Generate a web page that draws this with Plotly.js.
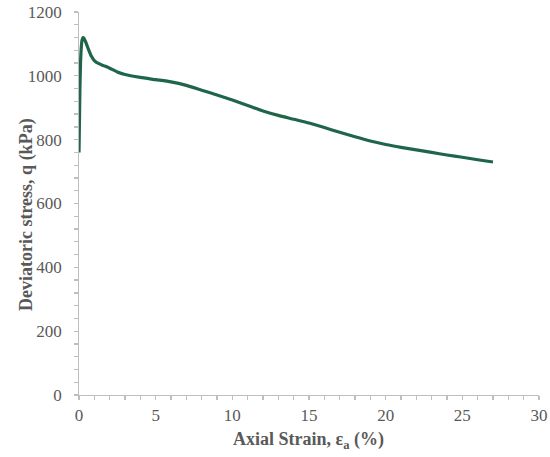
<!DOCTYPE html>
<html>
<head>
<meta charset="utf-8">
<script src="https://cdn.plot.ly/plotly-3.0.1.min.js"></script>
<style>html,body{margin:0;padding:0;background:#fff;}#chart{width:550px;height:457px;}</style>
</head>
<body>
<div id="chart"></div>
<script>
const strain = [0, 0.03, 0.06, 0.1, 0.15, 0.2, 0.26, 0.32, 0.4, 0.5, 0.6, 0.8, 1.0, 1.3, 1.6, 2.0, 2.5, 3.0, 4, 5, 6, 7, 8, 9, 10, 11, 12, 13, 14, 15, 16, 17, 18, 19, 20, 21, 22, 23, 24, 25, 26, 27];
const stress = [760, 860, 960, 1040, 1090, 1112, 1120, 1118, 1110, 1098, 1085, 1062, 1048, 1038, 1032, 1024, 1012, 1004, 995, 988, 981, 970, 955, 940, 924, 907, 890, 876, 864, 852, 838, 823, 809, 796, 785, 776, 768, 760, 752, 745, 737, 730];
const xTicks = [0, 5, 10, 15, 20, 25, 30];
const yTicks = [0, 200, 400, 600, 800, 1000, 1200];
const xTitle = '<b>Axial Strain, ε<sub>a</sub> (%)</b>';
const yTitle = '<b>Deviatoric stress, q (kPa)</b>';

const grey = '#595959';
const axisCol = '#bfbfbf';
const fontFam = '"Liberation Serif", "DejaVu Serif", serif';

Plotly.newPlot('chart', [{
  x: strain, y: stress, mode: 'lines', type: 'scatter',
  line: {color: '#1e654a', width: 3.2, shape: 'spline', smoothing: 0.6},
  hoverinfo: 'none'
}], {
  width: 550, height: 457,
  margin: {l: 79, r: 11, t: 12, b: 62},
  paper_bgcolor: '#fff', plot_bgcolor: '#fff',
  showlegend: false,
  font: {family: fontFam, color: grey, size: 17},
  xaxis: {
    range: [0, 30], tickvals: xTicks, ticktext: xTicks.map(String),
    showgrid: false, zeroline: false, showline: true, linecolor: axisCol, linewidth: 1.3,
    ticks: 'outside', ticklen: 4, tickcolor: axisCol, tickwidth: 1.3,
    minor: {dtick: 1, ticks: 'outside', ticklen: 4, tickcolor: axisCol, tickwidth: 1.3, showgrid: false},
    tickfont: {family: fontFam, size: 17, color: grey},
    fixedrange: true
  },
  yaxis: {
    range: [0, 1200], tickvals: yTicks, ticktext: yTicks.map(v => v + '\u00a0\u00a0'),
    showgrid: false, zeroline: false, showline: true, linecolor: axisCol, linewidth: 1.3,
    ticks: 'outside', ticklen: 4, tickcolor: axisCol, tickwidth: 1.3,
    minor: {dtick: 40, ticks: 'outside', ticklen: 4, tickcolor: axisCol, tickwidth: 1.3, showgrid: false},
    tickfont: {family: fontFam, size: 17, color: grey},
    fixedrange: true
  },
  annotations: [
    {text: xTitle, xref: 'paper', yref: 'paper', x: 0.498, y: -0.12, xanchor: 'center', yanchor: 'middle',
     showarrow: false, font: {family: fontFam, size: 18, color: grey}},
    {text: yTitle, xref: 'paper', yref: 'paper', x: -0.113, y: 0.47, xanchor: 'center', yanchor: 'middle',
     textangle: -90, showarrow: false, font: {family: fontFam, size: 18, color: grey}}
  ]
}, {displayModeBar: false, staticPlot: true});
</script>
</body>
</html>
